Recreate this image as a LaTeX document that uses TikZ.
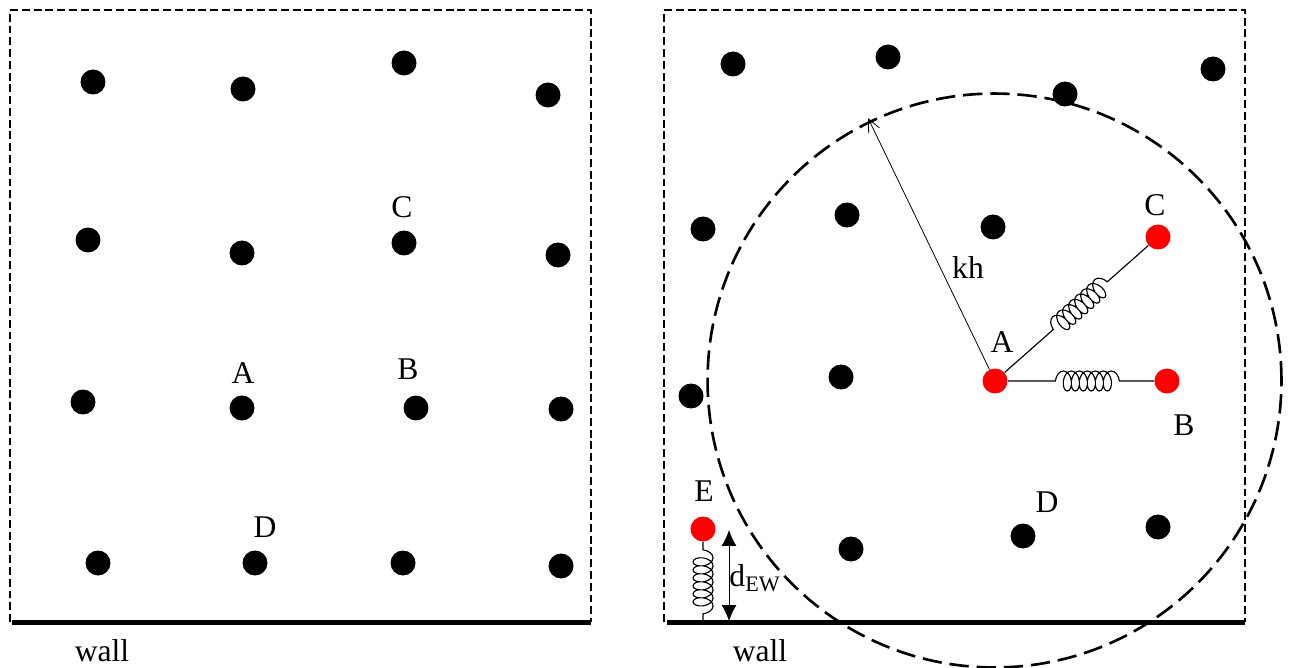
\documentclass[tikz,border=0pt]{standalone}
\usepackage{fontspec}
\setmainfont{Liberation Serif}
\usetikzlibrary{arrows.meta,decorations.pathmorphing}
\begin{document}
\begin{tikzpicture}[x=0.02cm,y=-0.02cm,
  font=\rmfamily\fontsize{18}{20}\selectfont,
  dot/.style={circle, fill=black, inner sep=0pt, minimum size=0.5cm},
  reddot/.style={dot, fill=red},
  lab/.style={inner sep=0pt},
  frame/.style={dash pattern=on 4.5pt off 2.2pt, line width=0.7pt},
  wallline/.style={line width=2.3pt},
  arr/.style={line width=0.5pt},
  radius/.style={-{Straight Barb[length=2.6mm,width=2.4mm]}, line width=0.45pt},
  spring/.style 2 args={line width=0.65pt, decorate, decoration={coil, aspect=0.6, amplitude=0.2cm, segment length=0.16cm, pre length=#1, post length=#2}},
  reach/.style={dash pattern=on 11pt off 4.5pt, line width=1.5pt}
]
\useasboundingbox (0,0) rectangle (1290,668);
% left panel
\draw[frame] (10,622) -- (10,10) -- (591,10) -- (591,622);
\coordinate (wallLa) at (12,622.5);
\coordinate (wallLb) at (591,622.5);
\draw[wallline] (wallLa) -- (wallLb);
\foreach \px/\py/\pname in {93/82/la,243/89/lb,404/63/lc,548/95/ld,
  88/240/le,242/253/lf,404/243/lg,558/255/lh,
  83/402/li,242/408/lj,416/408/lk,561/409/ll,
  98/563/lm,255/563/ln,403/563/lo,561/566/lp}
  \node[dot] (\pname) at (\px,\py) {};
\node[lab] (lcC) at (402,207) {C};
\node[lab] (lcA) at (243,373) {A};
\node[lab] (lcB) at (408,369) {B};
\node[lab] (lcD) at (265,527) {D};
\node[lab] (lcwall) at (102,651) {wall};
% right panel
\draw[frame] (664,622) -- (664,10) -- (1245,10) -- (1245,622);
\coordinate (wallRa) at (667,622.5);
\coordinate (wallRb) at (1245,622.5);
\draw[wallline] (wallRa) -- (wallRb);
\node[circle, reach, draw, inner sep=0pt, minimum size=11.48cm] (cutoff) at (994.5,380.5) {};
\foreach \px/\py/\pname in {733/64/ra,888/57/rb,1065/94/rc,1213/69/rd,
  703/229/re,847/215/rf,993/227/rg,
  691/396/ri,841/377/rj,
  851/549/rm,1023/536/rn,1158/527/ro}
  \node[dot] (\pname) at (\px,\py) {};
\node[reddot] (nodeA) at (995,381) {};
\node[reddot] (nodeB) at (1167,381) {};
\node[reddot] (nodeC) at (1158,237) {};
\node[reddot] (nodeE) at (703,529) {};
\coordinate (kcorner) at (868,118);
\coordinate (efoot) at (703,622);
\coordinate (dtop) at (729,530);
\coordinate (dbot) at (729,621);
\draw[radius] (nodeA) -- (kcorner);
\draw[spring={0.95cm}{0.65cm}] (nodeA) -- (nodeB);
\draw[spring={1.3cm}{1.05cm}] (nodeA) -- (nodeC);
\draw[spring={0.16cm}{0.06cm}] (nodeE) -- (efoot);
\draw[arr, {Latex[length=3.2mm,width=3mm]}-{Latex[length=3.2mm,width=3mm]}] (dtop) -- (dbot);
\node[lab] (rcC) at (1155,205) {C};
\node[lab] (rcA) at (1002,342) {A};
\node[lab] (rcB) at (1184,425) {B};
\node[lab] (rcD) at (1047,502) {D};
\node[lab] (rcE) at (704,491) {E};
\node[lab] (rckh) at (968,268) {kh};
\node[lab] (rcd) at (755,578) {d\textsubscript{EW}};
\node[lab] (rcwall) at (760,651) {wall};
\end{tikzpicture}
\end{document}
